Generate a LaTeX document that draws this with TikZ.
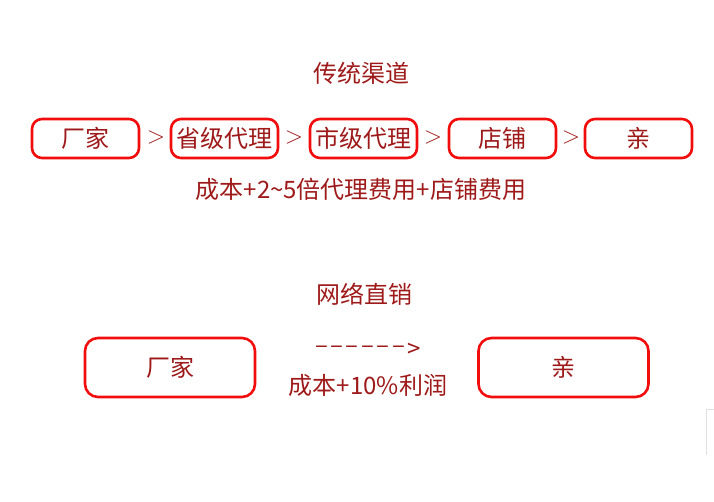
\documentclass[tikz,border=0pt]{standalone}
\usepackage{fontspec}
\usepackage{tikz}
\usetikzlibrary{positioning}
\newfontfamily\cjk{Noto Sans CJK SC}
\definecolor{boxred}{HTML}{F20D0D}
\definecolor{txtred}{HTML}{9E1A1A}
\newcommand\dsh{\raisebox{3.5pt}{\textendash}\kern2.5pt}

\begin{document}
\begin{tikzpicture}[
  x=1pt,y=-1pt,
  font=\cjk\fontsize{24}{26}\selectfont,
  chan/.style={draw=boxred,line width=2.6pt,fill=white,rounded corners=10pt,
               minimum width=107pt,minimum height=39pt,inner sep=0pt,text=txtred},
  wide/.style={chan,minimum width=170pt,minimum height=59pt,rounded corners=13pt},
  gt/.style={text=txtred,font=\fontsize{24}{24}\selectfont,inner sep=0pt},
  ttl/.style={text=txtred,inner sep=0pt},
  note/.style={text=txtred,inner sep=0pt}]
\useasboundingbox (0,0) rectangle (714,501);

% ------------------------------- traditional ------------------------------
\node[ttl] (t1) at (361,73) {传统渠道};
\node[chan] (mk1) at (85.5,138.5)  {厂家};
\node[chan] (pv)  at (224.5,138.5) {省级代理};
\node[chan] (ct)  at (363.5,138.5) {市级代理};
\node[chan] (sh)  at (502.5,138.5) {店铺};
\node[chan] (cu1) at (638.5,138.5) {亲};
\node[gt] (g1) at (156,138) {>};
\node[gt] (g2) at (294,138) {>};
\node[gt] (g3) at (433,138) {>};
\node[gt] (g4) at (571,138) {>};
\node[note] (c1) at (361,189) {成本+2\char`~5倍代理费用+店铺费用};

% ------------------------------- online -----------------------------------
\node[ttl] (t2) at (364,294) {网络直销};
\node[wide] (mk2) at (170,367.5) {厂家};
\node[wide] (cu2) at (563.5,367.5) {亲};
\node[note] (ar) at (368,350) {\dsh\dsh\dsh\dsh\dsh\dsh>};
\node[note] (c2) at (368,385) {成本+10\%利润};

% stray edge at the lower right
\draw[black!12,line width=0.8pt] (714,409) -| (706,455);
\end{tikzpicture}
\end{document}
